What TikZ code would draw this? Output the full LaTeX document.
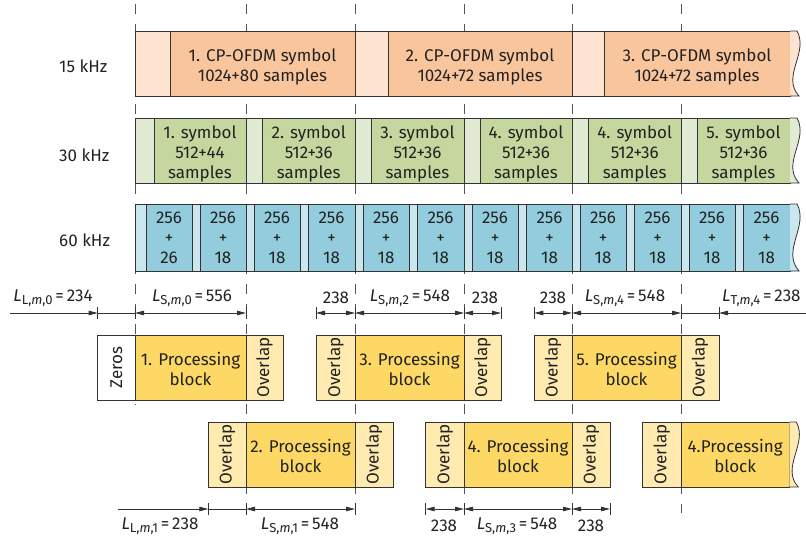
\documentclass[tikz,border=0pt]{standalone}
\usepackage{fontspec}
\setmainfont{Fira Sans}
\usetikzlibrary{arrows.meta}
\definecolor{linec}{HTML}{333333}
\definecolor{txtc}{HTML}{222222}
\definecolor{dashc}{HTML}{555555}
\definecolor{symA}{HTML}{F9C59C}
\definecolor{cpA}{HTML}{FDE3D0}
\definecolor{symB}{HTML}{C5D69F}
\definecolor{cpB}{HTML}{E3EAD3}
\definecolor{symC}{HTML}{93CDDD}
\definecolor{cpC}{HTML}{CAE6EF}
\definecolor{procY}{HTML}{FDD865}
\definecolor{ovlY}{HTML}{FFEAB0}
\newcommand\cell[8]{%
  \node[cellbox, fill=#6, minimum width={(#3)-(#2)}, minimum height={(#5)-(#4)}] (#1) at ({(#2+#3)/2},{(#4+#5)/2}) {};
  \node[celltext] (#1t) at ([yshift=#8]#1.center) {#7};}
\newcommand\wave[4]{% x, y1, y2, fill
  \fill[#4] (#1,#2) -- ({#1+7},#2) .. controls ({#1+19},{#2+0.33*(#3-#2)}) and ({#1-9},{#2+0.7*(#3-#2)}) .. ({#1+9},#3) -- (#1,#3) -- cycle;
  \draw[linec, line width=0.8pt] (#1,#2) -- ({#1+7},#2) .. controls ({#1+19},{#2+0.33*(#3-#2)}) and ({#1-9},{#2+0.7*(#3-#2)}) .. ({#1+9},#3) -- (#1,#3);}
\newcommand\Lab[2]{\textit{L}\raisebox{-0.35ex}{\fontsize{13}{13}\selectfont #1}\,=\,#2}
\newcommand\ovl{\rotatebox{90}{Overlap}}
\begin{document}
\begin{tikzpicture}[x=1pt,y=-1pt,
  font=\fontsize{17}{20}\selectfont,
  cellbox/.style={draw=linec, line width=0.8pt, inner sep=0pt, outer sep=0pt},
  celltext/.style={inner sep=0pt, align=center, text=txtc},
  dashline/.style={draw=dashc, line width=0.8pt, dash pattern=on 10pt off 10pt},
  tick/.style={draw=linec, line width=0.8pt},
  meas/.style={draw=linec, line width=0.8pt},
  arr/.style={meas, -{Triangle[length=9pt,width=4.5pt]}},
  darr/.style={meas, {Triangle[length=9pt,width=4.5pt]}-{Triangle[length=9pt,width=4.5pt]}},
  lab/.style={text=txtc, inner sep=0pt}]
\useasboundingbox (0,0) rectangle (806,539);

% dashed guide lines
\coordinate (g0t) at (135,4); \coordinate (g0b) at (135,405);
\draw[dashline] (g0t) -- (g0b);
\foreach \gx/\gb in {246/515,355/515,464/515,572/515,681/513}{
  \coordinate (gt\gx) at (\gx,4); \coordinate (gb\gx) at (\gx,\gb);
  \draw[dashline] (gt\gx) -- (gb\gx);
}

% left labels
\node[lab, anchor=west] (l15) at (59,66) {15 kHz};
\node[lab, anchor=west] (l30) at (59,155) {30 kHz};
\node[lab, anchor=west] (l60) at (59,240) {60 kHz};

% 15 kHz row
\cell{a1}{135}{170}{31}{96}{cpA}{}{0pt}
\cell{a2}{170}{355}{31}{96}{symA}{1. CP-OFDM symbol\\1024+80 samples}{-3pt}
\cell{a3}{355}{388}{31}{96}{cpA}{}{0pt}
\cell{a4}{388}{572}{31}{96}{symA}{2. CP-OFDM symbol\\1024+72 samples}{-3pt}
\cell{a5}{572}{604}{31}{96}{cpA}{}{0pt}
\cell{a6}{604}{790}{31}{96}{symA}{3. CP-OFDM symbol\\1024+72 samples}{-3pt}
\wave{790}{31}{96}{cpA}

% 30 kHz row
\cell{b1}{135}{154}{118}{183}{cpB}{}{0pt}
\cell{b2}{154}{246}{118}{183}{symB}{1. symbol\\512+44\\samples}{-3.5pt}
\cell{b3}{246}{262.5}{118}{183}{cpB}{}{0pt}
\cell{b4}{262.5}{355}{118}{183}{symB}{2. symbol\\512+36\\samples}{-3.5pt}
\cell{b5}{355}{371}{118}{183}{cpB}{}{0pt}
\cell{b6}{371}{464}{118}{183}{symB}{3. symbol\\512+36\\samples}{-3.5pt}
\cell{b7}{464}{480}{118}{183}{cpB}{}{0pt}
\cell{b8}{480}{572}{118}{183}{symB}{4. symbol\\512+36\\samples}{-3.5pt}
\cell{b9}{572}{588.5}{118}{183}{cpB}{}{0pt}
\cell{b10}{588.5}{681}{118}{183}{symB}{4. symbol\\512+36\\samples}{-3.5pt}
\cell{b11}{681}{697}{118}{183}{cpB}{}{0pt}
\cell{b12}{697}{790}{118}{183}{symB}{5. symbol\\512+36\\samples}{-3.5pt}
\wave{790}{118}{183}{cpB}

% 60 kHz row
\cell{c1}{135}{146}{204}{271}{cpC}{}{0pt}
\cell{c2}{146}{192}{204}{271}{symC}{256\\+\\26}{-0.5pt}
\cell{c3}{192}{200}{204}{271}{cpC}{}{0pt}
\cell{c4}{200}{246}{204}{271}{symC}{256\\+\\18}{-0.5pt}
\foreach \i/\s in {1/246,2/355,3/464,4/572,5/681}{
  \cell{c\i p1}{\s}{\s+8}{204}{271}{cpC}{}{0pt}
  \cell{c\i s1}{\s+8}{\s+54}{204}{271}{symC}{256\\+\\18}{-0.5pt}
  \cell{c\i p2}{\s+54}{\s+62}{204}{271}{cpC}{}{0pt}
  \cell{c\i s2}{\s+62}{\s+109}{204}{271}{symC}{256\\+\\18}{-0.5pt}
}
\wave{790}{204}{271}{cpC}

% processing blocks row 1
\cell{p0}{97.7}{135}{335}{400}{white}{\rotatebox{90}{Zeros}}{0pt}
\cell{p1}{135}{246}{335}{400}{procY}{1. Processing\\block}{-1.5pt}
\cell{p1o}{246}{283.3}{335}{400}{ovlY}{\ovl}{0pt}
\cell{p3i}{316}{355}{335}{400}{ovlY}{\ovl}{0pt}
\cell{p3}{355}{464}{335}{400}{procY}{3. Processing\\block}{-1.5pt}
\cell{p3o}{464}{501}{335}{400}{ovlY}{\ovl}{0pt}
\cell{p5i}{534.3}{572}{335}{400}{ovlY}{\ovl}{0pt}
\cell{p5}{572}{681}{335}{400}{procY}{5. Processing\\block}{-1.5pt}
\cell{p5o}{681}{719}{335}{400}{ovlY}{\ovl}{0pt}

% processing blocks row 2
\cell{p2i}{208.3}{246}{422}{487}{ovlY}{\ovl}{0pt}
\cell{p2}{246}{355}{422}{487}{procY}{2. Processing\\block}{-1.5pt}
\cell{p2o}{355}{393.3}{422}{487}{ovlY}{\ovl}{0pt}
\cell{p4i}{425.7}{464}{422}{487}{ovlY}{\ovl}{0pt}
\cell{p4}{464}{572}{422}{487}{procY}{4. Processing\\block}{-1.5pt}
\cell{p4o}{572}{610}{422}{487}{ovlY}{\ovl}{0pt}
\cell{p6i}{642.7}{681}{422}{487}{ovlY}{\ovl}{0pt}
\cell{p6}{681}{789.3}{422}{487}{procY}{4.Processing\\block}{-1.5pt}
\wave{789.3}{422}{487}{ovlY}

% top measurement line
\foreach \n/\x in {t1/97.7,t2/135,t3/246,t4/316,t5/355,t6/464,t7/501,t8/534.3,t9/572,t10/681,t11/719}{
  \coordinate (\n) at (\x,313);
  \draw[tick] (\x,307) -- (\x,319);
}
\coordinate (t0) at (10,313);
\coordinate (t12) at (806,313);
\draw[arr] (t0) -- (t1);
\draw[meas] (t1) -- (t2);
\draw[darr] (t2) -- (t3);
\draw[darr] (t4) -- (t5);
\draw[darr] (t5) -- (t6);
\draw[darr] (t6) -- (t7);
\draw[darr] (t8) -- (t9);
\draw[darr] (t9) -- (t10);
\draw[meas] (t10) -- (t11);
\draw[arr] (t12) -- (t11);

\node[lab] (m1) at (53,298) {\Lab{L,\textit{m},0}{234}};
\node[lab] (m2) at (192,298) {\Lab{S,\textit{m},0}{556}};
\node[lab] (m3) at (336,298) {238};
\node[lab] (m4) at (410,298) {\Lab{S,\textit{m},2}{548}};
\node[lab] (m5) at (485,298) {238};
\node[lab] (m6) at (553,298) {238};
\node[lab] (m7) at (625,298) {\Lab{S,\textit{m},4}{548}};
\node[lab, anchor=west] (m8) at (722,298) {\Lab{T,\textit{m},4}{238}};

% bottom measurement line
\foreach \n/\x in {u1/208.3,u2/246,u3/355,u4/425.7,u5/464,u6/572,u7/610}{
  \coordinate (\n) at (\x,509);
  \draw[tick] (\x,503) -- (\x,515);
}
\coordinate (u0) at (118,509);
\draw[arr] (u0) -- (u1);
\draw[meas] (u1) -- (u2);
\draw[darr] (u2) -- (u3);
\draw[darr] (u4) -- (u5);
\draw[darr] (u5) -- (u6);
\draw[darr] (u6) -- (u7);

\node[lab] (n1) at (160,526) {\Lab{L,\textit{m},1}{238}};
\node[lab] (n2) at (300,526) {\Lab{S,\textit{m},1}{548}};
\node[lab] (n3) at (444,526) {238};
\node[lab] (n4) at (517,526) {\Lab{S,\textit{m},3}{548}};
\node[lab] (n5) at (591,526) {238};
\end{tikzpicture}
\end{document}
